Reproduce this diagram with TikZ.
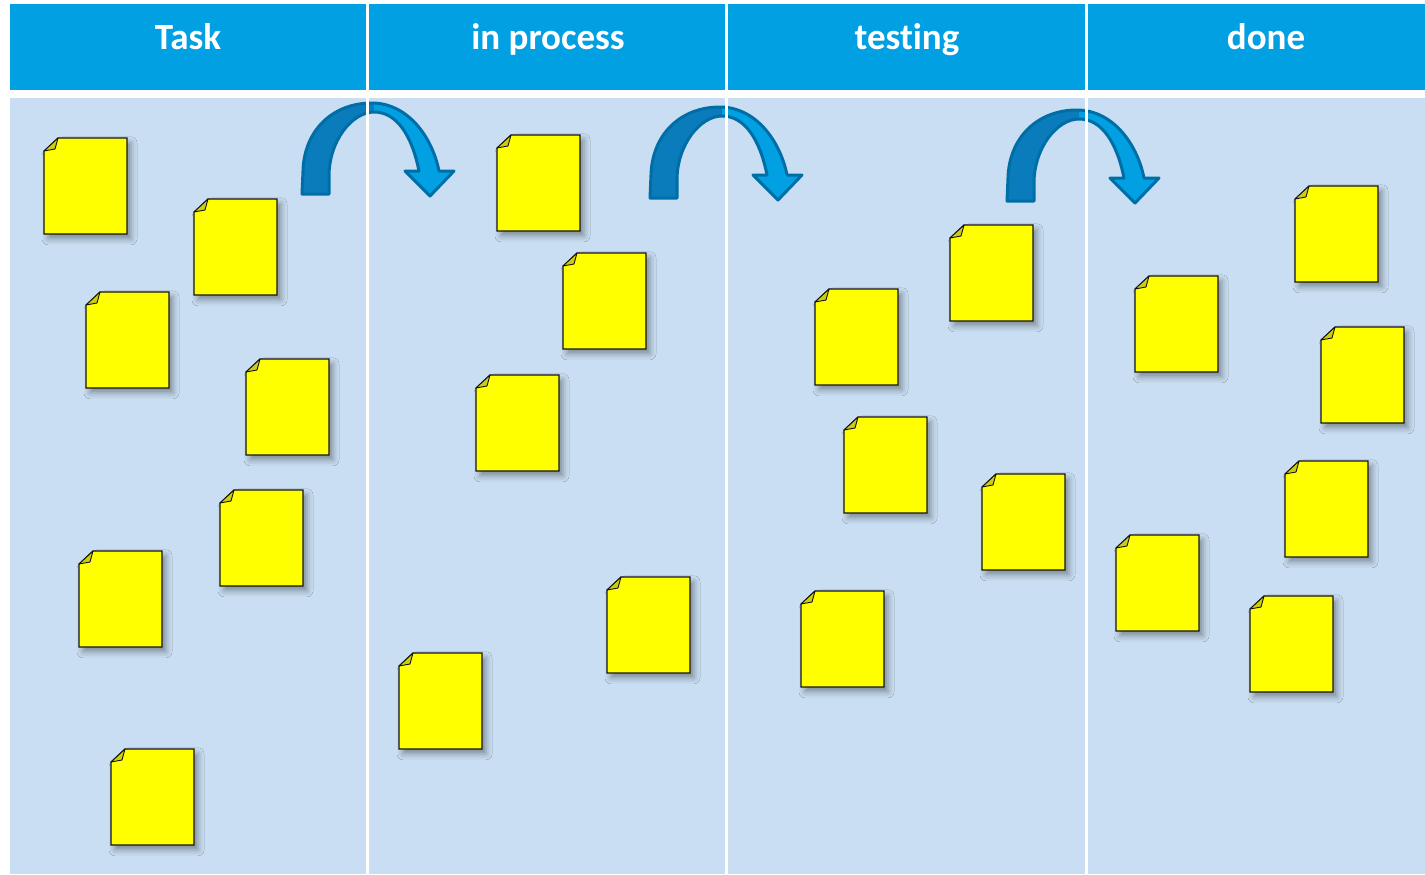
\documentclass[tikz,border=0pt]{standalone}
\usepackage{fontspec}
\setmainfont{Carlito}[Ligatures=NoCommon]
\usetikzlibrary{shadows.blur}

\definecolor{headblue}{RGB}{0,160,227}
\definecolor{laneblue}{RGB}{201,222,242}
\definecolor{arrowdark}{RGB}{10,124,188}
\definecolor{arrowlight}{RGB}{0,160,226}
\definecolor{arrowedge}{RGB}{0,110,166}
\definecolor{noteyellow}{RGB}{255,255,0}
\definecolor{foldyellow}{RGB}{204,204,20}
\definecolor{noteedge}{RGB}{20,20,20}

\tikzset{
  header/.style={text=white, font=\bfseries\fontsize{18.5}{20}\selectfont, anchor=base, inner sep=0pt},
  notebody/.style={fill=noteyellow, draw=noteedge, line width=0.55pt, line join=miter,
    blur shadow={shadow xshift=2pt, shadow yshift=-2.4pt, shadow blur radius=3pt, shadow opacity=38}},
  notefold/.style={fill=foldyellow, draw=noteedge, line width=0.45pt, line join=round},
  lanegap/.style={draw=white, line width=1.6pt},
}

% one sticky note, top-left corner at (#1,#2)
\newcommand\stickynote[2]{%
  \begin{scope}[shift={(#1,#2)}]
    \path[notebody] (14,0) -- (83,0) -- (83,96) -- (0,96) -- (0,13) -- cycle;
    \path[notefold] (0,13) -- (14,0) -- (11,11) -- cycle;
  \end{scope}}

% outline of the bent arrow
\newcommand\bentshape[1]{%
  \path[#1] (650,198) -- (651,175)
    .. controls (652,135) and (680,107) .. (720,107)
    .. controls (755,107) and (780,140) .. (787,175)
    -- (802,175) -- (778,200) -- (753,175) -- (767,175)
    .. controls (760,140) and (745,116) .. (722,116)
    .. controls (700,116) and (677,145) .. (677,180)
    -- (677,198) -- cycle;}

% bent arrow shifted by (#1,#2)
\newcommand\bentarrow[2]{%
  \begin{scope}[shift={(#1,#2)}]
    \bentshape{fill=arrowdark}
    \begin{scope}
      \clip (722,95) rectangle (820,215);
      \bentshape{fill=arrowlight}
    \end{scope}
    \bentshape{draw=arrowedge, line width=1.5pt, line join=round}
  \end{scope}}

\begin{document}
\begin{tikzpicture}[x=0.5pt, y=-0.5pt]
  \useasboundingbox (0,0) rectangle (1425,874);

  % header band and lane area
  \fill[headblue] (10,4) rectangle (1425,90);
  \fill[laneblue] (10,98) rectangle (1425,874);

  \node[header] (hTask) at (188,49) {Task};
  \node[header] (hProc) at (548,49) {in process};
  \node[header] (hTest) at (907,49) {testing};
  \node[header] (hDone) at (1266,49) {done};

  % Task
  \stickynote{44}{138}
  \stickynote{194}{199}
  \stickynote{86}{292}
  \stickynote{246}{359}
  \stickynote{220}{490}
  \stickynote{79}{551}
  \stickynote{111}{749}
  % in process
  \stickynote{497}{135}
  \stickynote{563}{253}
  \stickynote{476}{375}
  \stickynote{607}{577}
  \stickynote{399}{653}
  % testing
  \stickynote{950}{225}
  \stickynote{815}{289}
  \stickynote{844}{417}
  \stickynote{982}{474}
  \stickynote{801}{591}
  % done
  \stickynote{1295}{186}
  \stickynote{1135}{276}
  \stickynote{1321}{327}
  \stickynote{1285}{461}
  \stickynote{1116}{535}
  \stickynote{1250}{596}

  % moves between lanes
  \bentarrow{-348}{-4}
  \bentarrow{0}{0}
  \bentarrow{357}{3}

  % white lane separators
  \foreach \gx in {367.5, 726.5, 1086.5}
    \draw[lanegap] (\gx,0) -- (\gx,874);
\end{tikzpicture}
\end{document}
